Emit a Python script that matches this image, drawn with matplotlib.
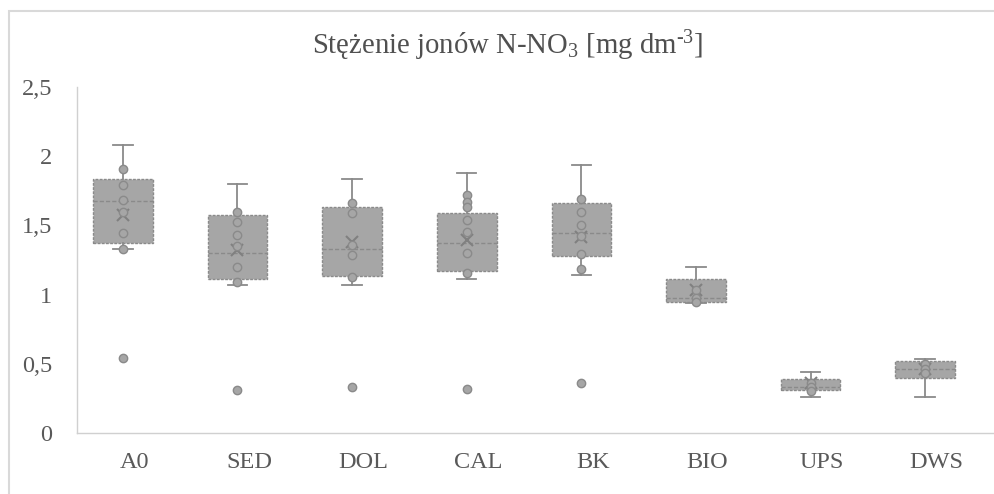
import numpy as np
import matplotlib.pyplot as plt
from matplotlib.patches import Rectangle

plt.rcParams['font.family'] = ['Liberation Serif', 'DejaVu Serif']
plt.rcParams['mathtext.fontset'] = 'custom'
plt.rcParams['mathtext.rm'] = 'Liberation Serif'
plt.rcParams['mathtext.it'] = 'Liberation Serif'

# values
categories = ['A0', 'SED', 'DOL', 'CAL', 'BK', 'BIO', 'UPS', 'DWS']
whis_lo = [1.33, 1.07, 1.07, 1.113, 1.142, 0.94, 0.262, 0.262]
q1 = [1.37, 1.11, 1.137, 1.17, 1.279, 0.95, 0.311, 0.40]
median = [1.675, 1.30, 1.33, 1.37, 1.447, 0.975, 0.33, 0.46]
q3 = [1.835, 1.575, 1.636, 1.59, 1.664, 1.115, 0.39, 0.522]
whis_hi = [2.08, 1.80, 1.833, 1.876, 1.936, 1.20, 0.443, 0.532]
means = [1.575, 1.32, 1.38, 1.394, 1.414, 1.03, 0.359, 0.46]
inner_points = [
    [1.905, 1.79, 1.68, 1.60, 1.445, 1.33],
    [1.595, 1.527, 1.43, 1.35, 1.20, 1.09],
    [1.664, 1.59, 1.36, 1.286, 1.125],
    [1.72, 1.67, 1.636, 1.54, 1.455, 1.298, 1.154],
    [1.688, 1.60, 1.503, 1.42, 1.291, 1.185],
    [1.03, 0.975, 0.95],
    [0.36, 0.33, 0.30],
    [0.50, 0.46, 0.43],
]
outliers = [[0.544], [0.311], [0.335], [0.318], [0.363], [], [], []]
yticks = [0, 0.5, 1, 1.5, 2, 2.5]

fill = '#a6a6a6'
edge = '#8a8a8a'
text_c = '#595959'

fig = plt.figure(figsize=(9.95, 4.94), dpi=100)
ax = fig.add_axes([77/995, 61/494, 917/995, 346/494])

pos = np.arange(len(categories)) - 0.1
stats = []
for i in range(len(categories)):
    stats.append(dict(whislo=whis_lo[i], q1=q1[i], med=median[i], q3=q3[i],
                      whishi=whis_hi[i], mean=means[i], fliers=outliers[i]))

ax.bxp(stats, positions=pos, widths=0.52, capwidths=0.17, patch_artist=True,
       showmeans=True, showfliers=False,
       boxprops=dict(facecolor=fill, edgecolor=edge, linestyle=(0, (2, 1)), linewidth=1),
       medianprops=dict(color=edge, linestyle=(0, (3, 1.5)), linewidth=1),
       whiskerprops=dict(color=edge, linewidth=1.3),
       capprops=dict(color=edge, linewidth=1.3),
       meanprops=dict(marker='x', markeredgecolor='#808080', markersize=8, markeredgewidth=1.5))

for i in range(len(categories)):
    pts = inner_points[i] + outliers[i]
    ax.plot([pos[i]] * len(pts), pts, 'o', markersize=6, markerfacecolor=fill,
            markeredgecolor=edge, markeredgewidth=1, linestyle='none', zorder=3)

ax.set_xlim(-0.5, len(categories) - 0.5)
ax.set_ylim(0, 2.5)
ax.set_xticks(np.arange(len(categories)))
ax.set_xticklabels(categories)
ax.set_yticks(yticks)
ax.set_yticklabels([f'{t:g}'.replace('.', ',') for t in yticks])
ax.tick_params(length=0, labelsize=17.5, colors=text_c, pad=14)
ax.tick_params(axis='y', pad=18)

for s in ['top', 'right']:
    ax.spines[s].set_visible(False)
for s in ['left', 'bottom']:
    ax.spines[s].set_color('#d0d0d0')
    ax.spines[s].set_linestyle((0, (2, 1)))
    ax.spines[s].set_linewidth(1)

fig.text(508/995, 1 - 46/494, r'Stężenie jonów N-NO$_{3}$ [mg dm$^{\text{-3}}$]',
         ha='center', va='center', fontsize=20.7, color='#505050')

# chart-area frame (only top and left edges fall inside the picture)
fig.patches.append(Rectangle((9/995, -0.05), 1.1, 1 - 11/494 + 0.05,
                             transform=fig.transFigure, fill=False,
                             edgecolor='#d9d9d9', linewidth=1.5))

fig.savefig('out.png', dpi=100)
